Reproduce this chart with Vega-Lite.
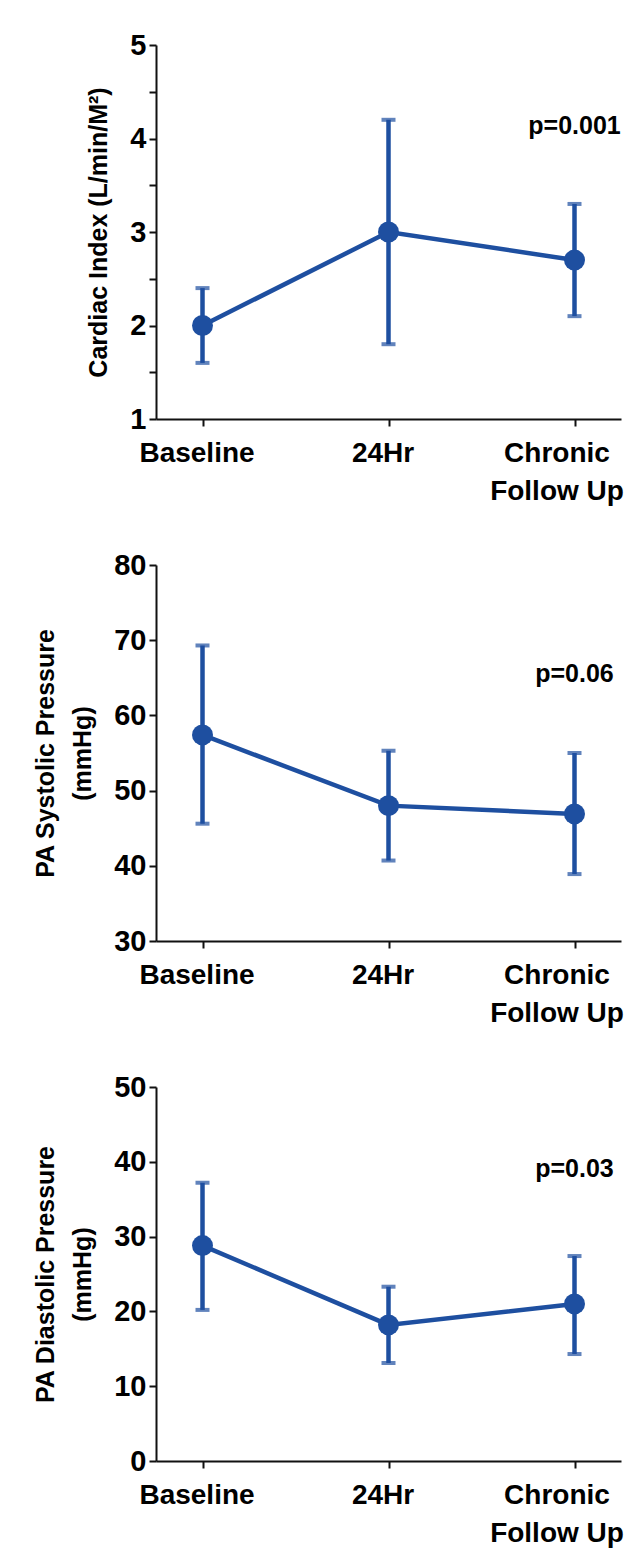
{
  "$schema": "https://vega.github.io/schema/vega-lite/v6.json",
  "background": "white",
  "padding": {"left": 33, "top": 31, "right": 10, "bottom": 10},
  "spacing": 46,
  "config": {
    "view": {"stroke": null},
    "font": "Liberation Sans",
    "axis": {"domainColor": "#111111", "domainWidth": 2, "tickColor": "#111111", "tickWidth": 2, "tickSize": 7, "labelColor": "#000000", "labelFont": "Liberation Sans", "labelFontWeight": "bold", "grid": false, "titleColor": "#000000", "titleFont": "Liberation Sans", "titleFontWeight": "bold"},
    "axisY": {"labelFontSize": 29, "labelPadding": 3, "titleFontSize": 25, "titlePadding": 18, "titleLineHeight": 37},
    "axisX": {"labelFontSize": 28, "labelAngle": 0, "labelPadding": 13, "labelLineHeight": 38}
  },
  "datasets": {
    "ci": [
      {"time": "Baseline", "mean": 2.0, "lo": 1.6, "hi": 2.4},
      {"time": "24Hr", "mean": 3.0, "lo": 1.8, "hi": 4.2},
      {"time": "Chronic Follow Up", "mean": 2.7, "lo": 2.1, "hi": 3.3}
    ],
    "sys": [
      {"time": "Baseline", "mean": 57.4, "lo": 45.6, "hi": 69.3},
      {"time": "24Hr", "mean": 48.0, "lo": 40.7, "hi": 55.3},
      {"time": "Chronic Follow Up", "mean": 46.9, "lo": 38.9, "hi": 55.0}
    ],
    "dia": [
      {"time": "Baseline", "mean": 28.8, "lo": 20.2, "hi": 37.2},
      {"time": "24Hr", "mean": 18.2, "lo": 13.1, "hi": 23.3},
      {"time": "Chronic Follow Up", "mean": 21.0, "lo": 14.3, "hi": 27.4}
    ],
    "p1": [{"time": "Chronic Follow Up", "y": 4.13, "label": "p=0.001"}],
    "p2": [{"time": "Chronic Follow Up", "y": 65.5, "label": "p=0.06"}],
    "p3": [{"time": "Chronic Follow Up", "y": 39.0, "label": "p=0.03"}]
  },
  "vconcat": [
    {
      "width": 465, "height": 374,
      "data": {"name": "ci"},
      "encoding": {
        "x": {"field": "time", "type": "ordinal", "title": null,
          "scale": {"type": "point", "domain": ["Baseline", "24Hr", "Chronic Follow Up"], "padding": 0.25},
          "axis": {"labelExpr": "datum.value == 'Chronic Follow Up' ? ['Chronic', 'Follow Up'] : datum.label", "labelOffset": {"condition": {"test": "datum.value == 'Chronic Follow Up'", "value": -18}, "value": -6}}}
      },
      "layer": [
        {"mark": {"type": "rule", "color": "#1e4fa0", "strokeWidth": 4.5},
         "encoding": {"y": {"field": "lo", "type": "quantitative", "title": "Cardiac Index (L/min/M²)", "scale": {"domain": [1, 5], "nice": false, "zero": false},
            "axis": {"values": [1, 1.5, 2, 2.5, 3, 3.5, 4, 4.5, 5], "labelExpr": "datum.value % 1 === 0 ? format(datum.value, 'd') : ''"}},
          "y2": {"field": "hi"}}},
        {"mark": {"type": "tick", "color": "#1e4fa0", "size": 14, "thickness": 4},
         "encoding": {"y": {"field": "lo", "type": "quantitative", "scale": {"domain": [1, 5], "nice": false, "zero": false}}}},
        {"mark": {"type": "tick", "color": "#1e4fa0", "size": 14, "thickness": 4},
         "encoding": {"y": {"field": "hi", "type": "quantitative", "scale": {"domain": [1, 5], "nice": false, "zero": false}}}},
        {"mark": {"type": "line", "color": "#1e4fa0", "strokeWidth": 4.5},
         "encoding": {"y": {"field": "mean", "type": "quantitative", "scale": {"domain": [1, 5], "nice": false, "zero": false}}}},
        {"mark": {"type": "circle", "color": "#1e4fa0", "size": 440, "opacity": 1},
         "encoding": {"y": {"field": "mean", "type": "quantitative", "scale": {"domain": [1, 5], "nice": false, "zero": false}}}},
        {"data": {"name": "p1"},
         "mark": {"type": "text", "fontSize": 25, "fontWeight": "bold", "color": "#000000", "align": "center", "baseline": "middle"},
         "encoding": {"y": {"field": "y", "type": "quantitative", "scale": {"domain": [1, 5], "nice": false, "zero": false}}, "text": {"field": "label"}}}
      ]
    },
    {
      "width": 465, "height": 376,
      "data": {"name": "sys"},
      "encoding": {
        "x": {"field": "time", "type": "ordinal", "title": null,
          "scale": {"type": "point", "domain": ["Baseline", "24Hr", "Chronic Follow Up"], "padding": 0.25},
          "axis": {"labelExpr": "datum.value == 'Chronic Follow Up' ? ['Chronic', 'Follow Up'] : datum.label", "labelOffset": {"condition": {"test": "datum.value == 'Chronic Follow Up'", "value": -18}, "value": -6}}}
      },
      "layer": [
        {"mark": {"type": "rule", "color": "#1e4fa0", "strokeWidth": 4.5},
         "encoding": {"y": {"field": "lo", "type": "quantitative", "title": ["PA Systolic Pressure", "(mmHg)"], "scale": {"domain": [30, 80], "nice": false, "zero": false},
            "axis": {"values": [30, 35, 40, 45, 50, 55, 60, 65, 70, 75, 80], "labelExpr": "datum.value % 10 === 0 ? format(datum.value, 'd') : ''"}},
          "y2": {"field": "hi"}}},
        {"mark": {"type": "tick", "color": "#1e4fa0", "size": 14, "thickness": 4},
         "encoding": {"y": {"field": "lo", "type": "quantitative", "scale": {"domain": [30, 80], "nice": false, "zero": false}}}},
        {"mark": {"type": "tick", "color": "#1e4fa0", "size": 14, "thickness": 4},
         "encoding": {"y": {"field": "hi", "type": "quantitative", "scale": {"domain": [30, 80], "nice": false, "zero": false}}}},
        {"mark": {"type": "line", "color": "#1e4fa0", "strokeWidth": 4.5},
         "encoding": {"y": {"field": "mean", "type": "quantitative", "scale": {"domain": [30, 80], "nice": false, "zero": false}}}},
        {"mark": {"type": "circle", "color": "#1e4fa0", "size": 440, "opacity": 1},
         "encoding": {"y": {"field": "mean", "type": "quantitative", "scale": {"domain": [30, 80], "nice": false, "zero": false}}}},
        {"data": {"name": "p2"},
         "mark": {"type": "text", "fontSize": 25, "fontWeight": "bold", "color": "#000000", "align": "center", "baseline": "middle"},
         "encoding": {"y": {"field": "y", "type": "quantitative", "scale": {"domain": [30, 80], "nice": false, "zero": false}}, "text": {"field": "label"}}}
      ]
    },
    {
      "width": 465, "height": 374,
      "data": {"name": "dia"},
      "encoding": {
        "x": {"field": "time", "type": "ordinal", "title": null,
          "scale": {"type": "point", "domain": ["Baseline", "24Hr", "Chronic Follow Up"], "padding": 0.25},
          "axis": {"labelExpr": "datum.value == 'Chronic Follow Up' ? ['Chronic', 'Follow Up'] : datum.label", "labelOffset": {"condition": {"test": "datum.value == 'Chronic Follow Up'", "value": -18}, "value": -6}}}
      },
      "layer": [
        {"mark": {"type": "rule", "color": "#1e4fa0", "strokeWidth": 4.5},
         "encoding": {"y": {"field": "lo", "type": "quantitative", "title": ["PA Diastolic Pressure", "(mmHg)"], "scale": {"domain": [0, 50], "nice": false, "zero": false},
            "axis": {"values": [0, 5, 10, 15, 20, 25, 30, 35, 40, 45, 50], "labelExpr": "datum.value % 10 === 0 ? format(datum.value, 'd') : ''"}},
          "y2": {"field": "hi"}}},
        {"mark": {"type": "tick", "color": "#1e4fa0", "size": 14, "thickness": 4},
         "encoding": {"y": {"field": "lo", "type": "quantitative", "scale": {"domain": [0, 50], "nice": false, "zero": false}}}},
        {"mark": {"type": "tick", "color": "#1e4fa0", "size": 14, "thickness": 4},
         "encoding": {"y": {"field": "hi", "type": "quantitative", "scale": {"domain": [0, 50], "nice": false, "zero": false}}}},
        {"mark": {"type": "line", "color": "#1e4fa0", "strokeWidth": 4.5},
         "encoding": {"y": {"field": "mean", "type": "quantitative", "scale": {"domain": [0, 50], "nice": false, "zero": false}}}},
        {"mark": {"type": "circle", "color": "#1e4fa0", "size": 440, "opacity": 1},
         "encoding": {"y": {"field": "mean", "type": "quantitative", "scale": {"domain": [0, 50], "nice": false, "zero": false}}}},
        {"data": {"name": "p3"},
         "mark": {"type": "text", "fontSize": 25, "fontWeight": "bold", "color": "#000000", "align": "center", "baseline": "middle"},
         "encoding": {"y": {"field": "y", "type": "quantitative", "scale": {"domain": [0, 50], "nice": false, "zero": false}}, "text": {"field": "label"}}}
      ]
    }
  ]
}
